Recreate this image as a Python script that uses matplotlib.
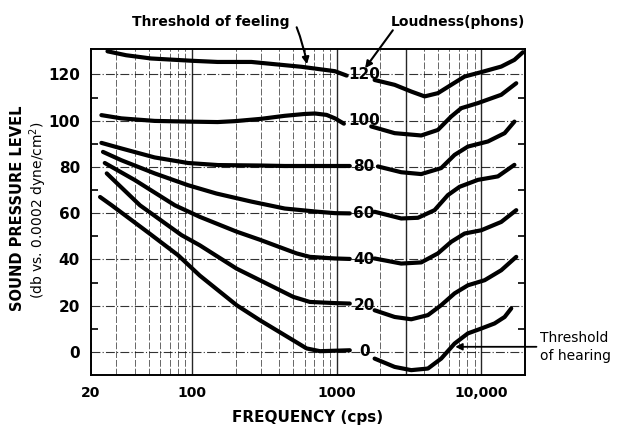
import numpy as np
import matplotlib
matplotlib.use("Agg")
import matplotlib.pyplot as plt
from matplotlib.ticker import FixedLocator, NullFormatter

# equal-loudness contours (freq in cps, level in db)
# left segments end at the phon labels, right segments start after them
phons = [120, 100, 80, 60, 40, 20, 0]

left_f = {
    120: [26, 35, 52, 100, 150, 257, 571, 970, 1170],
    100: [23.6, 32.4, 55.1, 93.6, 150, 198, 300, 437, 600, 707, 850, 971, 1120],
    80: [23.6, 32.4, 55.1, 93.6, 151, 300, 437, 700, 971, 1230],
    60: [24.2, 32.4, 55.1, 93.6, 147, 257, 437, 742, 971, 1230],
    40: [24.9, 40.2, 76, 113, 203, 294, 527, 651, 971, 1230],
    20: [25.7, 43.6, 84.5, 113, 203, 294, 500, 651, 971, 1230],
    0: [23.1, 27.8, 50, 80, 113, 203, 294, 500, 618, 765, 971, 1230],
}
left_db = {
    120: [130, 128.3, 126.9, 125.9, 125.4, 125.4, 123.3, 121.4, 119.5],
    100: [102.4, 101, 99.9, 99.6, 99.4, 99.8, 100.8, 102.1, 102.9, 103.1, 102.5, 101, 98.7],
    80: [90.4, 88, 84.1, 81.7, 80.8, 80.6, 80.4, 80.4, 80.4, 80.4],
    60: [86.5, 82.9, 77.2, 72.1, 68.5, 65, 62, 60.6, 60, 59.9],
    40: [81.7, 74.3, 63.4, 58.4, 52, 48.5, 42.6, 41.1, 40.4, 40.2],
    20: [77.2, 63.4, 50.5, 46.1, 36, 31, 23.8, 21.6, 21.1, 20.9],
    0: [67, 63.4, 51.5, 41.8, 33, 20.2, 13.7, 5, 1.5, 0.3, 0.5, 0.7],
}
right_f = {
    120: [1826, 2512, 3272, 4048, 5000, 6180, 7650, 9970, 13700, 16900, 19340],
    100: [1730, 2512, 3834, 5000, 6180, 7250, 9450, 13700, 17400],
    80: [1924, 2790, 3834, 5270, 6520, 8060, 11080, 14460, 16900],
    60: [1826, 2790, 3640, 4740, 5860, 7060, 9450, 12990, 16900],
    40: [1826, 2790, 3834, 5000, 6180, 7650, 9970, 13700, 17400],
    20: [1826, 2512, 3272, 4266, 5270, 6520, 8060, 10520, 13700, 17400],
    0: [1826, 2512, 3272, 4266, 5270, 6520, 8060, 9970, 12320, 14460, 16070],
}
right_db = {
    120: [117.6, 115.5, 112.6, 110.5, 111.9, 115.5, 119.1, 121, 123.4, 126.3, 129.6],
    100: [97.5, 94.6, 93.6, 96, 101.8, 105.4, 107.6, 111.2, 116.2],
    80: [80.2, 77.7, 76.9, 79.5, 85.2, 88.8, 91, 94.6, 99.6],
    60: [60.6, 57.7, 58, 61.3, 67.8, 71.4, 74.4, 75.9, 80.9],
    40: [40.4, 38.2, 38.7, 42.6, 47.6, 51.2, 52.6, 56.2, 61.3],
    20: [18, 15.1, 14.1, 15.9, 20.2, 25.3, 28.8, 31, 35.3, 41.1],
    0: [-2.9, -6.5, -7.9, -7.2, -2.9, 3.6, 8, 10.1, 12.3, 15.1, 18.8],
}

label_f = 1546
xticks = [20, 100, 1000, 10000]
xtick_labels = ["20", "100", "1000", "10,000"]
yticks = [0, 20, 40, 60, 80, 100, 120]

fig = plt.figure(figsize=(6.2, 4.3), dpi=100)
ax = fig.add_axes([91 / 620, 1 - 375 / 430, 434 / 620, 326 / 430])
ax.set_xscale("log")
ax.set_xlim(20, 20000)
ax.set_ylim(-10, 131)

# log paper grid
vlines = [m * d for d in (10, 100, 1000, 10000) for m in range(1, 10) if 20 <= m * d <= 20000]
for v in vlines:
    strong = v in (100, 1000, 3000, 10000)
    ax.axvline(v, color="black", lw=1.0 if strong else 0.7,
               ls="-" if strong else (0, (7, 2)), alpha=0.85 if strong else 0.6, zorder=1)
for h in yticks:
    ax.axhline(h, color="black", lw=0.8, ls=(0, (8, 2, 1, 2)), alpha=0.8, zorder=1)

for p in phons:
    ax.plot(left_f[p], left_db[p], color="black", lw=3, solid_capstyle="round",
            solid_joinstyle="round", zorder=3)
    ax.plot(right_f[p], right_db[p], color="black", lw=3, solid_capstyle="round",
            solid_joinstyle="round", zorder=3)
    ax.text(label_f, p, str(p), ha="center", va="center", fontsize=11,
            fontweight="bold", zorder=4)

ax.xaxis.set_major_locator(FixedLocator(xticks))
ax.set_xticklabels(xtick_labels)
ax.xaxis.set_minor_formatter(NullFormatter())
ax.set_yticks(yticks)
ax.yaxis.set_minor_locator(FixedLocator([10, 30, 50, 70, 90, 110]))
ax.tick_params(axis="x", which="both", length=0, labelsize=10, pad=8)
ax.tick_params(axis="y", which="major", length=0, labelsize=11, pad=8)
ax.tick_params(axis="y", which="minor", direction="in", length=5, width=1.2, right=True)
for lab in ax.get_xticklabels() + ax.get_yticklabels():
    lab.set_fontweight("bold")
for s in ax.spines.values():
    s.set_linewidth(1.4)

ax.set_xlabel("FREQUENCY (cps)", fontsize=11, fontweight="bold", labelpad=7)
fig.text(18 / 620, 1 - 208 / 430, "SOUND PRESSURE LEVEL", rotation=90,
         ha="center", va="center", fontsize=10.5, fontweight="bold")
fig.text(38 / 620, 1 - 210 / 430, "(db vs. 0.0002 dyne/cm$^2$)", rotation=90,
         ha="center", va="center", fontsize=10)

ax.text(135, 142.5, "Threshold of feeling", ha="center", va="center",
        fontsize=10, fontweight="bold", clip_on=False)
ax.annotate("", xy=(622, 124.4), xytext=(528, 140.4),
            arrowprops=dict(arrowstyle="-|>", color="black", lw=1.5,
                            shrinkA=0, shrinkB=0, connectionstyle="arc3,rad=-0.05"),
            annotation_clip=False)
ax.text(6860, 142.5, "Loudness(phons)", ha="center", va="center",
        fontsize=10, fontweight="bold", clip_on=False)
ax.annotate("", xy=(1570, 122.7), xytext=(2440, 139.1),
            arrowprops=dict(arrowstyle="-|>", color="black", lw=1.5,
                            shrinkA=0, shrinkB=0),
            annotation_clip=False)
ax.annotate("", xy=(6590, 2.2), xytext=(24000, 2.2),
            arrowprops=dict(arrowstyle="-|>", color="black", lw=1.3, shrinkA=0, shrinkB=0),
            annotation_clip=False)
ax.text(25400, 2.2, "Threshold\nof hearing", ha="left", va="center", fontsize=10,
        linespacing=1.4, clip_on=False)

fig.savefig("out.png", dpi=100)
